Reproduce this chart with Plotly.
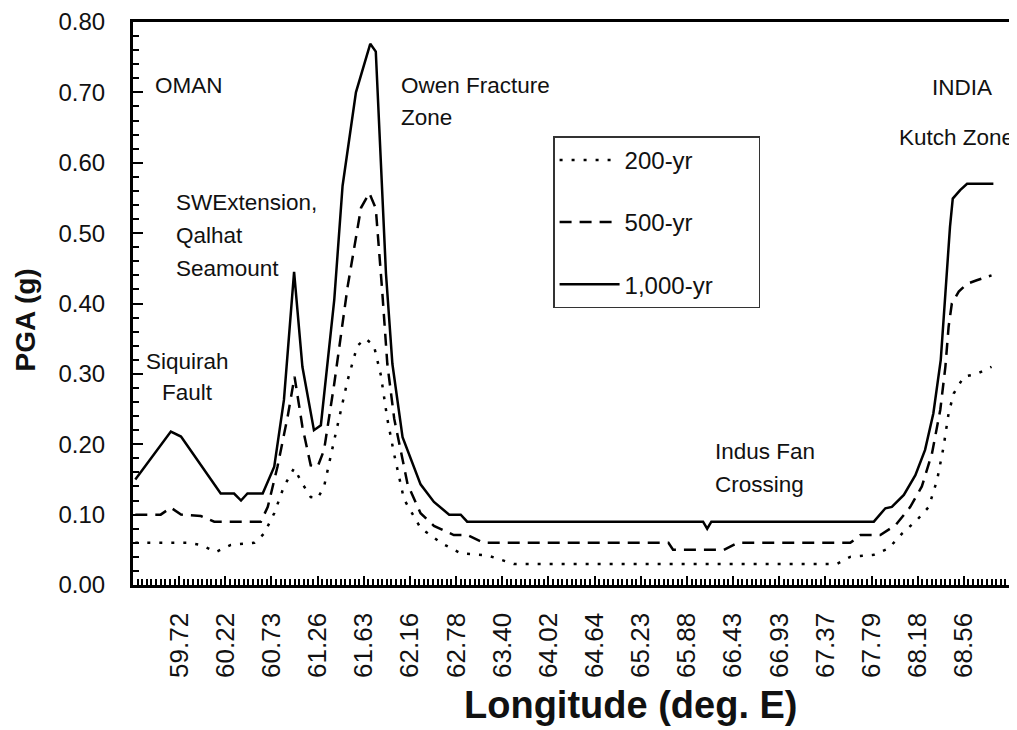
import plotly.graph_objects as go

# Tick labels (longitude, deg E) placed every 10 grid steps along the profile
tick_pos = [10, 20, 30, 40, 50, 60, 70, 80, 90, 100, 110, 120, 130, 140, 150, 160, 170, 180]
tick_text = ["59.72", "60.22", "60.73", "61.26", "61.63", "62.16", "62.78", "63.40", "64.02",
             "64.64", "65.23", "65.88", "66.43", "66.93", "67.37", "67.79", "68.18", "68.56"]
y_ticks = [0.0, 0.1, 0.2, 0.3, 0.4, 0.5, 0.6, 0.7, 0.8]
y_tick_text = ["0.00", "0.10", "0.20", "0.30", "0.40", "0.50", "0.60", "0.70", "0.80"]

# 200-yr return period
x200 = [0.5, 11.8, 14.7, 18.0, 21.2, 26.3, 28.4, 30.6, 32.7, 34.9, 36.7, 38.5, 40.0, 41.4, 43.6,
        46.5, 48.6, 50.4, 52.2, 53.7, 55.1, 56.6, 58.7, 62.3, 66.7, 71.0, 76.8, 82.5, 152.5, 155.4,
        160.5, 163.7, 166.6, 169.8, 172.4, 174.2, 175.6, 176.7, 177.8, 180.0, 182.8, 186.0]
y200 = [0.06, 0.06, 0.057, 0.047, 0.057, 0.06, 0.073, 0.102, 0.14, 0.166, 0.144, 0.125, 0.123, 0.14, 0.206,
        0.291, 0.34, 0.35, 0.34, 0.298, 0.236, 0.185, 0.122, 0.081, 0.06, 0.045, 0.042, 0.03, 0.03, 0.04,
        0.043, 0.052, 0.073, 0.092, 0.111, 0.149, 0.196, 0.244, 0.272, 0.296, 0.30, 0.31]

# 500-yr return period
x500 = [0.5, 6.0, 8.2, 10.4, 14.7, 17.6, 27.7, 29.2, 31.3, 33.5, 35.0, 36.7, 38.5, 40.0, 41.4, 43.6,
        46.5, 49.4, 51.2, 52.6, 54.0, 55.1, 56.6, 59.5, 62.3, 65.2, 69.5, 72.4, 76.0, 116.0, 117.0,
        128.0, 131.0, 155.4, 157.6, 161.9, 165.2, 168.4, 170.9, 173.1, 174.9, 176.0, 176.7, 177.4,
        178.9, 180.7, 182.8, 186.0]
y500 = [0.10, 0.10, 0.11, 0.10, 0.098, 0.09, 0.09, 0.111, 0.168, 0.239, 0.296, 0.225, 0.17, 0.168, 0.192, 0.286,
        0.424, 0.536, 0.557, 0.535, 0.417, 0.314, 0.236, 0.143, 0.102, 0.084, 0.071, 0.071, 0.06, 0.06, 0.05,
        0.05, 0.06, 0.06, 0.071, 0.071, 0.085, 0.111, 0.14, 0.187, 0.249, 0.31, 0.367, 0.40,
        0.417, 0.428, 0.433, 0.44]

# 1,000-yr return period
x1000 = [0.5, 4.6, 8.2, 10.4, 12.9, 15.4, 19.0, 21.9, 23.4, 24.8, 28.1, 30.6, 32.7, 34.9, 36.7, 39.2,
         40.7, 43.6, 45.4, 48.3, 51.4, 52.6, 53.7, 54.8, 56.2, 58.4, 62.3, 65.2, 68.5, 71.0, 72.4,
         123.5, 124.4, 125.3, 160.5, 163.0, 164.4, 167.0, 169.5, 171.6, 173.4, 175.0, 176.0, 177.0,
         177.6, 179.2, 180.7, 186.4]
y1000 = [0.15, 0.187, 0.218, 0.211, 0.187, 0.163, 0.13, 0.13, 0.12, 0.13, 0.13, 0.168, 0.263, 0.445, 0.31, 0.22,
         0.227, 0.405, 0.567, 0.70, 0.769, 0.758, 0.598, 0.443, 0.314, 0.21, 0.143, 0.118, 0.10, 0.10, 0.09,
         0.09, 0.08, 0.09, 0.09, 0.109, 0.111, 0.128, 0.156, 0.192, 0.244, 0.32, 0.414, 0.509,
         0.549, 0.561, 0.57, 0.57]

# Region labels: (text, x, y, xanchor)
labels = [
    ("OMAN", 4.3, 0.71, "left"),
    ("SWExtension,", 8.9, 0.543, "left"),
    ("Qalhat", 8.9, 0.497, "left"),
    ("Seamount", 8.9, 0.450, "left"),
    ("Siquirah", 11.9, 0.317, "center"),
    ("Fault", 11.9, 0.273, "center"),
    ("Owen Fracture", 57.6, 0.71, "left"),
    ("Zone", 57.6, 0.665, "left"),
    ("INDIA", 179.7, 0.707, "center"),
    ("Kutch Zone", 178.3, 0.636, "center"),
    ("Indus Fan", 125.6, 0.189, "left"),
    ("Crossing", 125.6, 0.143, "left"),
]

FONT = "Liberation Sans, Arial, Helvetica, sans-serif"
BLACK = "#111"
NB = "\u00a0"

fig = go.Figure()
fig.add_trace(go.Scatter(x=x200, y=y200, mode="lines", name="200-yr" + NB * 8, legendgroup="a",
                         line=dict(color="black", width=2.5, dash="3px,9px")))
fig.add_trace(go.Scatter(x=x500, y=y500, mode="lines", name="500-yr" + NB * 8, legendgroup="b",
                         line=dict(color="black", width=2.5, dash="12px,8px")))
fig.add_trace(go.Scatter(x=x1000, y=y1000, mode="lines", name="1,000-yr" + NB * 6, legendgroup="c",
                         line=dict(color="black", width=2.5)))

for text, lx, ly, anchor in labels:
    fig.add_annotation(x=lx, y=ly, xref="x", yref="y", text=text, showarrow=False,
                       xanchor=anchor, yanchor="middle",
                       font=dict(family=FONT, size=22.5, color=BLACK))

# axis titles
fig.add_annotation(x=0.568, y=-0.213, xref="paper", yref="paper", text="<b>Longitude (deg. E)</b>",
                   showarrow=False, xanchor="center", yanchor="middle",
                   font=dict(family=FONT, size=38, color=BLACK))
fig.add_annotation(x=-0.123, y=0.47, xref="paper", yref="paper", text="<b>PGA (g)</b>",
                   showarrow=False, xanchor="center", yanchor="middle", textangle=-90,
                   font=dict(family=FONT, size=28, color=BLACK))

fig.update_layout(
    width=1009, height=722,
    margin=dict(l=125, r=7, t=14, b=145),
    paper_bgcolor="white", plot_bgcolor="white",
    font=dict(family=FONT, color=BLACK),
    showlegend=True,
    legend=dict(x=0.479, y=0.797, xanchor="left", yanchor="top",
                bgcolor="white", bordercolor="#333", borderwidth=1.5,
                font=dict(family=FONT, size=24, color=BLACK),
                tracegroupgap=28, traceorder="grouped", itemwidth=60),
    xaxis=dict(
        range=[0, 190], showgrid=False, zeroline=False, automargin=False,
        showline=True, linecolor="black", linewidth=3, mirror=True,
        tickmode="array", tickvals=tick_pos, ticktext=[t + NB * 2 for t in tick_text],
        tickangle=-90, ticks="inside", ticklen=9, tickwidth=2, tickcolor="black",
        tickfont=dict(family=FONT, size=26, color=BLACK),
        minor=dict(tickmode="linear", tick0=0, dtick=1, ticks="inside", ticklen=6,
                   tickwidth=1.5, tickcolor="black", showgrid=False),
    ),
    yaxis=dict(
        range=[0, 0.8], showgrid=False, zeroline=False, automargin=False,
        showline=True, linecolor="black", linewidth=3, mirror=False,
        tickmode="array", tickvals=y_ticks, ticktext=[t + NB * 3 for t in y_tick_text],
        ticks="inside", ticklen=10, tickwidth=2, tickcolor="black",
        tickfont=dict(family=FONT, size=24, color=BLACK),
        minor=dict(tickmode="linear", tick0=0, dtick=0.02, ticks="inside", ticklen=6,
                   tickwidth=1.5, tickcolor="black", showgrid=False),
    ),
)

fig.write_html("out.html")
